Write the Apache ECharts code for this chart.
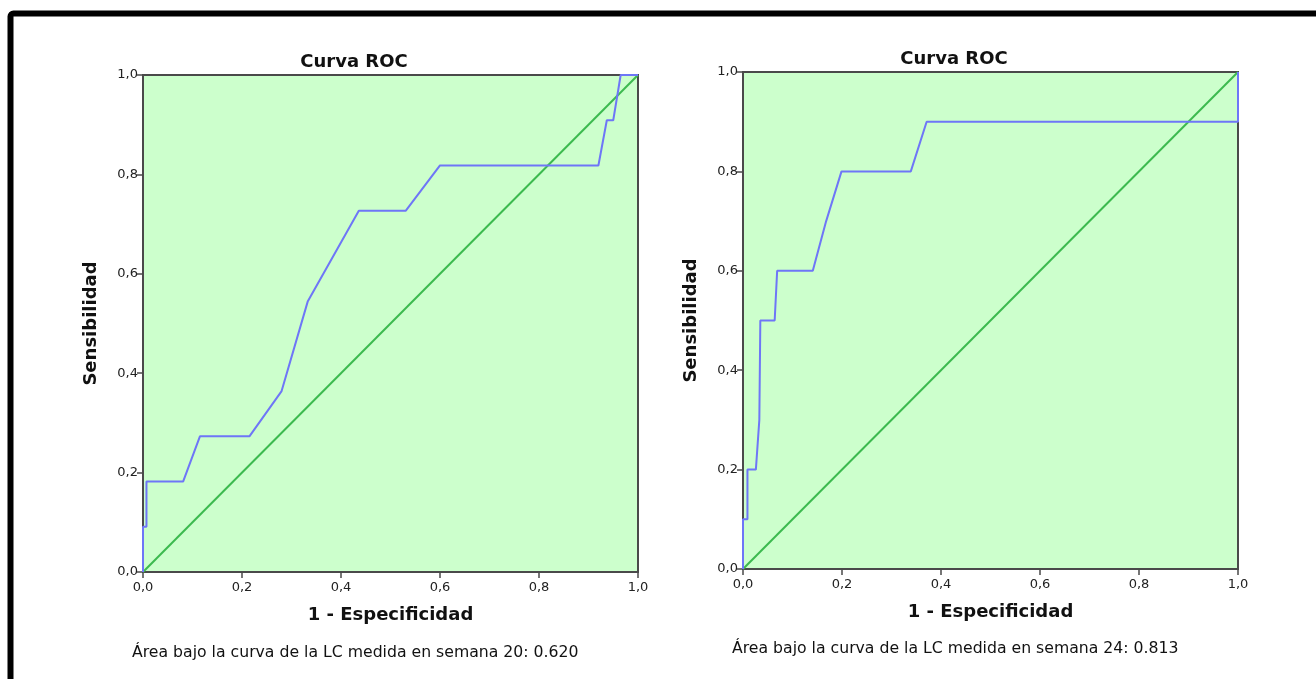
<!DOCTYPE html>
<html>
<head>
<meta charset="utf-8">
<title>Curva ROC</title>
<script src="https://cdn.jsdelivr.net/npm/echarts@6/dist/echarts.min.js"></script>
<style>
  html, body { margin: 0; padding: 0; background: #ffffff; }
  #chart { width: 1316px; height: 679px; }
</style>
</head>
<body>
<div id="chart"></div>
<script>
// ROC curve, week 20 (1 - specificity vs. sensitivity)
const fprWeek20 = [0, 0, 0.007, 0.007, 0.081, 0.115, 0.215, 0.280, 0.333, 0.436, 0.531, 0.600, 0.920, 0.937, 0.950, 0.965, 1.0];
const tprWeek20 = [0, 0.091, 0.091, 0.182, 0.182, 0.273, 0.273, 0.364, 0.545, 0.727, 0.727, 0.818, 0.818, 0.909, 0.909, 1.0, 1.0];

// ROC curve, week 24
const fprWeek24 = [0, 0, 0.009, 0.009, 0.026, 0.033, 0.035, 0.064, 0.069, 0.141, 0.168, 0.199, 0.339, 0.371, 1.0, 1.0];
const tprWeek24 = [0, 0.1, 0.1, 0.2, 0.2, 0.3, 0.5, 0.5, 0.6, 0.6, 0.7, 0.8, 0.8, 0.9, 0.9, 1.0];

// Reference (chance) line
const chanceX = [0, 1];
const chanceY = [0, 1];

const aucWeek20 = '0.620';
const aucWeek24 = '0.813';

const chartTitle = 'Curva ROC';
const xAxisName = '1 - Especificidad';
const yAxisName = 'Sensibilidad';

const toPairs = (xs, ys) => xs.map((x, i) => [x, ys[i]]);
const commaFmt = v => v.toFixed(1).replace('.', ',');

const axisColor = '#4a4a4a';
const tickFont = { color: '#222', fontSize: 13, fontFamily: 'DejaVu Sans' };
const nameFont = { color: '#111', fontSize: 18, fontWeight: 'bold', fontFamily: 'DejaVu Sans' };

function makeXAxis(gridIndex) {
  return {
    gridIndex, type: 'value', min: 0, max: 1, interval: 0.2,
    name: xAxisName, nameLocation: 'middle', nameGap: 34, nameTextStyle: nameFont,
    axisLine: { show: true, lineStyle: { color: axisColor, width: 2 } },
    axisTick: { show: true, length: 6, lineStyle: { color: axisColor, width: 1.5 } },
    axisLabel: Object.assign({ formatter: commaFmt, margin: 9 }, tickFont),
    splitLine: { show: false }
  };
}
function makeYAxis(gridIndex) {
  return {
    gridIndex, type: 'value', min: 0, max: 1, interval: 0.2,
    name: yAxisName, nameLocation: 'middle', nameGap: 43, nameTextStyle: nameFont,
    axisLine: { show: true, lineStyle: { color: axisColor, width: 2 } },
    axisTick: { show: true, length: 6, lineStyle: { color: axisColor, width: 1.5 } },
    axisLabel: Object.assign({ formatter: commaFmt, margin: 5 }, tickFont),
    splitLine: { show: false }
  };
}
function rocSeries(idx, data) {
  return {
    type: 'line', xAxisIndex: idx, yAxisIndex: idx, data,
    showSymbol: false, symbol: 'none', z: 3,
    lineStyle: { color: '#6e76f7', width: 2 }
  };
}
function chanceSeries(idx) {
  return {
    type: 'line', xAxisIndex: idx, yAxisIndex: idx, data: toPairs(chanceX, chanceY),
    showSymbol: false, symbol: 'none', z: 2,
    lineStyle: { color: '#3cba4f', width: 2 }
  };
}

const chart = echarts.init(document.getElementById('chart'), null, { renderer: 'canvas' });

chart.setOption({
  animation: false,
  backgroundColor: '#ffffff',
  title: [
    { text: chartTitle, left: 349, top: 48, textAlign: 'center',
      textStyle: { fontSize: 18, fontWeight: 'bold', color: '#111', fontFamily: 'DejaVu Sans' } },
    { text: chartTitle, left: 949, top: 45, textAlign: 'center',
      textStyle: { fontSize: 18, fontWeight: 'bold', color: '#111', fontFamily: 'DejaVu Sans' } }
  ],
  grid: [
    { left: 143, top: 75, width: 495, height: 497, show: true,
      backgroundColor: '#ccffcc', borderColor: axisColor, borderWidth: 2 },
    { left: 743, top: 72, width: 495, height: 497, show: true,
      backgroundColor: '#ccffcc', borderColor: axisColor, borderWidth: 2 }
  ],
  xAxis: [makeXAxis(0), makeXAxis(1)],
  yAxis: [makeYAxis(0), makeYAxis(1)],
  series: [
    chanceSeries(0),
    rocSeries(0, toPairs(fprWeek20, tprWeek20)),
    chanceSeries(1),
    rocSeries(1, toPairs(fprWeek24, tprWeek24))
  ],
  graphic: [
    { type: 'rect', shape: { x: 10.5, y: 13.5, width: 1400, height: 800, r: 3 },
      style: { fill: 'none', stroke: '#000', lineWidth: 6 }, silent: true },
    { type: 'text', left: 132, top: 645,
      style: { text: 'Área bajo la curva de la LC medida en semana 20: ' + aucWeek20,
               fontSize: 15.7, fill: '#111', fontFamily: 'DejaVu Sans' } },
    { type: 'text', left: 732, top: 641,
      style: { text: 'Área bajo la curva de la LC medida en semana 24: ' + aucWeek24,
               fontSize: 15.7, fill: '#111', fontFamily: 'DejaVu Sans' } }
  ]
});
</script>
</body>
</html>
